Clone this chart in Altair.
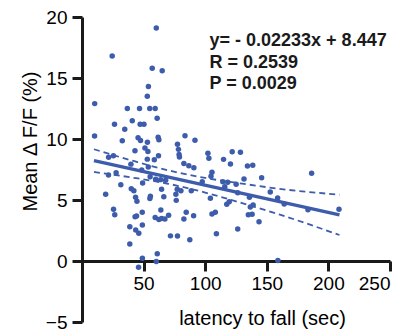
import altair as alt
import pandas as pd

# ---- data ----
lat = [60.3, 24.5, 57.0, 65.1, 53.9, 53.0, 10.3, 36.8, 46.7, 55.0, 59.4, 61.0, 40.8, 26.4, 47.2, 50.3,
       34.7, 10.2, 32.7, 45.5, 47.5, 53.1, 61.8, 62.4, 83.6, 91.7, 77.5, 78.3, 51.1, 43.0, 53.5, 78.8,
       79.1, 62.1, 58.7, 53.0, 21.6, 25.5, 39.7, 82.7, 86.7, 90.8, 102.2, 103.0, 114.9, 120.5, 121.9,
       128.6, 134.3, 138.6, 145.8, 105.5, 104.7, 97.6, 114.3, 118.3, 125.1, 131.5, 115.9, 126.4, 135.9,
       117.5, 119.5, 104.2, 105.5, 108.2, 136.6, 138.9, 135.0, 138.1, 143.7, 126.4, 109.1, 152.8, 158.8,
       164.1, 186.4, 183.4, 208.6, 19.2, 21.5, 27.7, 31.5, 40.0, 42.1, 43.5, 44.6, 25.6, 26.6, 48.5,
       49.2, 53.8, 55.3, 59.8, 63.8, 67.9, 64.6, 66.4, 55.5, 55.1, 77.3, 76.2, 76.5, 80.3, 88.7, 84.6,
       82.7, 90.6, 48.9, 43.1, 44.3, 38.8, 49.0, 43.6, 46.1, 59.4, 62.4, 64.6, 67.3, 70.3, 64.0, 71.8,
       77.5, 87.5, 38.8, 49.0, 61.1, 60.3, 45.9, 159.0]
dff = [19.1, 16.8, 15.8, 15.6, 14.3, 13.5, 12.9, 12.5, 12.5, 12.5, 12.5, 11.7, 11.5, 11.2, 11.2, 11.2,
       10.8, 10.25, 9.85, 10.1, 9.88, 9.74, 10.15, 9.93, 10.27, 9.9, 9.57, 9.15, 9.27, 9.03, 8.98, 8.73,
       8.52, 8.62, 8.3, 8.35, 8.5, 8.62, 7.94, 8.0, 7.81, 7.65, 8.83, 8.42, 8.33, 7.95, 8.96,
       8.91, 7.79, 7.85, 6.83, 7.28, 6.95, 6.5, 6.5, 6.45, 6.29, 6.72, 6.09, 5.6, 5.22,
       4.65, 4.85, 5.14, 3.85, 4.0, 4.42, 4.6, 3.8, 3.84, 3.22, 2.62, 2.23, 5.65, 5.17,
       4.67, 7.2, 4.21, 4.24, 5.48, 7.05, 7.23, 6.25, 5.93, 5.76, 5.22, 4.89, 4.24, 3.8, 7.46,
       6.4, 7.7, 6.9, 6.7, 6.67, 6.62, 5.89, 5.26, 5.3, 5.12, 5.89, 5.48, 4.97, 5.75, 5.75, 4.0,
       3.44, 3.71, 4.0, 3.62, 3.68, 2.8, 2.95, 2.54, 2.28, 3.56, 3.4, 3.48, 3.45, 3.75, 4.18, 2.06,
       2.05, 1.75, 1.39, 0.22, 0.6, -0.05, -0.52, 0.05]

fit_x = [9.7, 209.0]
fit_y = [8.23, 3.78]

band_x = [9.7, 40, 70, 100, 130, 160, 209]
band_hi = [9.16, 8.25, 7.43, 6.81, 6.34, 5.92, 5.43]
band_lo = [7.30, 6.85, 6.33, 5.61, 4.74, 3.82, 2.13]

ann_text = ["y= - 0.02233x + 8.447", "R = 0.2539", "P = 0.0029"]
ann_x = [103.5, 103.5, 103.5]
ann_y = [17.62, 15.84, 14.07]

x_ticks = [50, 100, 150, 200, 250]
y_ticks = [-5, 0, 5, 10, 15, 20]

# ---- tables ----
pts = pd.DataFrame({"x": lat, "y": dff})
fit = pd.DataFrame({"x": fit_x, "y": fit_y})
hi = pd.DataFrame({"x": band_x, "y": band_hi})
lo = pd.DataFrame({"x": band_x, "y": band_lo})
ann = pd.DataFrame({"x": ann_x, "y": ann_y, "t": ann_text})

BLUE = "#3D5CAB"
AXC = "#1a1a1a"
FONT = "Liberation Sans"

xscale = alt.Scale(domain=[0, 250], nice=False, zero=False)
yscale = alt.Scale(domain=[-5, 20], nice=False, zero=False)

common = dict(grid=False, domain=True, ticks=True,
              domainColor=AXC, domainWidth=3, tickColor=AXC, tickWidth=3, tickSize=10,
              labelFont=FONT, labelFontSize=19, labelColor="black",
              titleFont=FONT, titleFontSize=20, titleFontWeight="normal", titleColor="black")

xaxis = alt.Axis(values=x_ticks, title="latency to fall (sec)", offset=-61, labelPadding=3,
                 titleX=180, titleY=63, titleBaseline="alphabetic", titleAlign="center", **common)
yaxis = alt.Axis(values=y_ticks, title="Mean Δ F/F (%)", labelPadding=5,
                 titleX=-52, titleY=124, titleBaseline="middle", titleAlign="center", titleAngle=270,
                 **common)

X = alt.X("x:Q", scale=xscale, axis=xaxis)
Y = alt.Y("y:Q", scale=yscale, axis=yaxis)

points = alt.Chart(pts).mark_circle(size=30, color=BLUE, opacity=1).encode(x=X, y=Y)
fit_line = alt.Chart(fit).mark_line(color=BLUE, strokeWidth=3.5).encode(x=X, y=Y)
hi_line = alt.Chart(hi).mark_line(color=BLUE, strokeWidth=1.8, strokeDash=[6, 4], interpolate="monotone").encode(x=X, y=Y)
lo_line = alt.Chart(lo).mark_line(color=BLUE, strokeWidth=1.8, strokeDash=[6, 4], interpolate="monotone").encode(x=X, y=Y)
text = alt.Chart(ann).mark_text(align="left", baseline="alphabetic", font=FONT, fontSize=18,
                                fontWeight="bold", color="#1a1a1a").encode(x=X, y=Y, text="t:N")

chart = alt.layer(hi_line, lo_line, fit_line, points, text).properties(
    width=308, height=305,
    background="white",
    autosize=alt.AutoSizeParams(type="none"),
    padding={"left": 82, "top": 17, "right": 21, "bottom": 12},
).configure_axis(
    domainColor=AXC, domainWidth=3, tickColor=AXC, tickWidth=3, tickSize=10,
).configure_view(stroke=None)

chart.save("out.html", embed_options={"renderer": "svg", "actions": False})
